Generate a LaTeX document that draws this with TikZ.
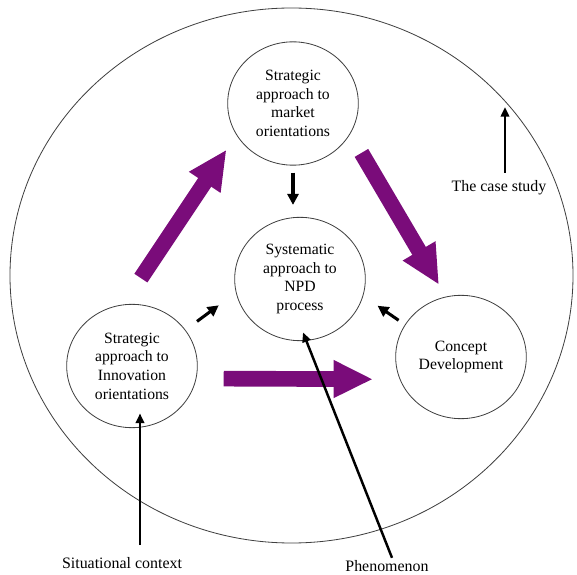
\documentclass[tikz,border=0pt]{standalone}
\usepackage{fontspec}
\setmainfont{Liberation Serif}
\usepackage{xcolor}
\usepackage{tikz}
\usetikzlibrary{arrows.meta, shapes.geometric, calc}
\definecolor{flowpurple}{RGB}{122,12,122}
\colorlet{ringgray}{black!75}
\tikzset{
  stage/.style={draw=ringgray, line width=0.7pt, ellipse, minimum width=3.92cm, minimum height=3.7cm, inner sep=0pt, align=center, font=\fontsize{13.4}{16}\selectfont},
  bigflow/.style={flowpurple, line width=0.47cm, -{Triangle[length=1.18cm, width=1.05cm]}},
  smallflow/.style={line width=2.6pt, -{Triangle[length=0.33cm, width=0.33cm]}},
  pointer/.style={line width=2.1pt, -{Triangle[length=0.29cm, width=0.25cm]}},
  tag/.style={font=\fontsize{13.6}{16}\selectfont, inner sep=2pt}
}

\begin{document}
\begin{tikzpicture}
    \useasboundingbox (0,0) rectangle (17.31,17.22);
    \draw[ringgray, line width=0.7pt] (8.745,8.955) ellipse [x radius=8.445cm, y radius=8.025cm];

    \node[stage] (market) at (8.79,14.115) {Strategic\\approach to\\market\\orientations};
    \node[stage] (npd) at (9.00,8.85) {Systematic\\approach to\\NPD\\process};
    \node[stage] (innov) at (3.96,6.24) {Strategic\\approach to\\Innovation\\orientations};
    \node[stage] (concept) at (13.83,6.51) {Concept\\Development};

    \node[tag] (case) at (14.97,11.58) {The case study};
    \node[tag] (situ) at (3.66,0.33) {Situational context};
    \node[tag] (pheno) at (11.61,0.24) {Phenomenon};

    \coordinate (casetip) at (15.15,14.01);
    \coordinate (situtip) at ([xshift=2.4mm, yshift=4.4mm]innov.south);
    \coordinate (phenotip) at ([xshift=0.9mm, yshift=2.6mm]npd.south);

    % purple flows between the orientations
    \draw[bigflow, shorten <=0.95cm, shorten >=0.53cm] (innov.98) -- (market.209);
    \draw[bigflow, shorten <=0.66cm, shorten >=0.41cm] (market.-28) -- (concept.104);
    \draw[bigflow, shorten <=0.82cm, shorten >=0.80cm] (innov.-11.5) -- (concept.200);

    % small arrows into the NPD process
    \draw[smallflow, shorten <=0.21cm, shorten >=0.36cm] (market.south) -- (market.south |- npd.north);
    \draw[smallflow, shorten <=0.43cm, shorten >=0.64cm] (innov.34) -- (npd.192);
    \draw[smallflow, shorten <=0.23cm, shorten >=0.52cm] (concept.150) -- (npd.-15);

    \draw[pointer, shorten <=0.17cm] (case.north -| casetip) -- (casetip);
    \draw[pointer, shorten <=0.29cm] (situ.north -| situtip) -- (situtip);
    \draw[pointer] ([xshift=1.5mm]pheno.north) -- (phenotip);
\end{tikzpicture}
\end{document}
